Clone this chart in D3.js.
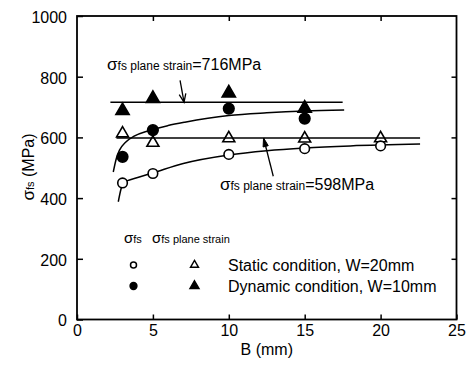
<!DOCTYPE html>
<html><head><meta charset="utf-8">
<script src="https://cdn.jsdelivr.net/npm/d3@7"></script>
<style>
body{margin:0;background:#fff}
svg{display:block}
text{font-family:"Liberation Sans",Arial,Helvetica,sans-serif;fill:#000}
</style>
</head><body>
<svg id="chart" width="472" height="369"></svg>
<script>
// ---- data ----
const xTicks = [0, 5, 10, 15, 20, 25];
const yTicks = [0, 200, 400, 600, 800, 1000];
const bStatic = [3, 5, 10, 15, 20];
const staticFs = [450, 481, 544, 563, 572];
const staticPlane = [613, 582, 597, 596, 597];
const bDynamic = [3, 5, 10, 15];
const dynamicFs = [536, 624, 695, 662];
const dynamicPlane = [688, 728, 746, 696];
// fitted curves, points
const staticCurveB = [2.72, 2.9, 3.05, 4, 5, 7, 10, 12.5, 15, 18, 22.6];
const staticCurveV = [388, 430, 450, 468, 483, 514, 542, 556, 565, 572, 578];
const dynamicCurveB = [2.39, 2.6, 2.8, 3.2, 3.8, 4.7, 6, 7.1, 10, 12.5, 15, 17.6];
const dynamicCurveV = [486, 532, 558, 584, 605, 622, 639, 650, 672, 681, 687, 690];
// plane strain levels
const planeValues = [716, 598];
const planeFrom = [2.2, 2.6];
const planeTo = [17.5, 22.6];
const legendRows = ["Static condition, W=20mm", "Dynamic condition, W=10mm"];

// ---- layout ----
const svg = d3.select("#chart");
const L = 77, R = 456.5, T = 16, B = 319.5;
const x = d3.scaleLinear().domain([0, 25]).range([L, R]);
const y = d3.scaleLinear().domain([0, 1000]).range([B, T]);

// frame
svg.append("rect").attr("x", L).attr("y", T).attr("width", R - L).attr("height", B - T)
  .attr("fill", "none").attr("stroke", "#000").attr("stroke-width", 1.8);

// axes with inward ticks
const fmt = d3.format("d");
const gB = svg.append("g").attr("transform", `translate(0,${B})`)
  .call(d3.axisBottom(x).tickValues(xTicks).tickSize(-5).tickPadding(5).tickFormat(fmt));
const gT = svg.append("g").attr("transform", `translate(0,${T})`)
  .call(d3.axisTop(x).tickValues(xTicks.slice(1, -1)).tickSize(-5).tickFormat(""));
const gL = svg.append("g").attr("transform", `translate(${L},0)`)
  .call(d3.axisLeft(y).tickValues(yTicks).tickSize(-6).tickPadding(10).tickFormat(fmt));
const gR = svg.append("g").attr("transform", `translate(${R},0)`)
  .call(d3.axisRight(y).tickValues(yTicks.slice(1, -1)).tickSize(-5).tickFormat(""));
[gB, gT, gL, gR].forEach(g => {
  g.select(".domain").remove();
  g.selectAll(".tick line").attr("stroke", "#000").attr("stroke-width", 1.5);
  g.selectAll("text").attr("font-size", 16).attr("fill", "#000")
    .attr("font-family", '"Liberation Sans",Arial,sans-serif');
});
gL.selectAll("text").attr("dy", "0.4em");

// axis titles
svg.append("text").attr("x", (L + R) / 2).attr("y", 355).attr("text-anchor", "middle")
  .attr("font-size", 16).text("B (mm)");
const yl = svg.append("text").attr("transform", "translate(34,167) rotate(-90)")
  .attr("text-anchor", "middle");
yl.append("tspan").attr("font-size", 17).text("σ");
yl.append("tspan").attr("font-size", 11).text("fs");
yl.append("tspan").attr("font-size", 16).text(" (MPa)");

// plane strain lines
planeValues.forEach((v, i) => {
  svg.append("line").attr("x1", x(planeFrom[i])).attr("x2", x(planeTo[i]))
    .attr("y1", y(v)).attr("y2", y(v)).attr("stroke", "#000").attr("stroke-width", 1.5);
});

// fitted curves
const line = d3.line().x(d => x(d[0])).y(d => y(d[1])).curve(d3.curveMonotoneX);
svg.append("path").datum(d3.zip(staticCurveB, staticCurveV)).attr("d", line)
  .attr("fill", "none").attr("stroke", "#000").attr("stroke-width", 1.5);
svg.append("path").datum(d3.zip(dynamicCurveB, dynamicCurveV)).attr("d", line)
  .attr("fill", "none").attr("stroke", "#000").attr("stroke-width", 1.5);

// markers
const tri = d3.symbol().type(d3.symbolTriangle);
function circles(bs, vs, filled, r) {
  svg.append("g").selectAll("circle").data(d3.zip(bs, vs)).join("circle")
    .attr("cx", d => x(d[0])).attr("cy", d => y(d[1])).attr("r", r)
    .attr("fill", filled ? "#000" : "#fff").attr("stroke", "#000").attr("stroke-width", 1.6);
}
function triangles(bs, vs, filled, size) {
  svg.append("g").selectAll("path").data(d3.zip(bs, vs)).join("path")
    .attr("d", tri.size(size)()).attr("transform", d => `translate(${x(d[0])},${y(d[1])})`)
    .attr("fill", filled ? "#000" : "none").attr("stroke", "#000").attr("stroke-width", 1.6)
    .attr("stroke-linejoin", "miter");
}
triangles(bStatic, staticPlane, false, 62);
circles(bStatic, staticFs, false, 4.8);
triangles(bDynamic, dynamicPlane, true, 76);
circles(bDynamic, dynamicFs, true, 5.3);

// annotations
function label(xp, yp, val) {
  const t = svg.append("text").attr("x", xp).attr("y", yp);
  t.append("tspan").attr("font-size", 17).text("σ");
  t.append("tspan").attr("font-size", 12).text("fs plane strain");
  t.append("tspan").attr("font-size", 16).text(`=${val}MPa`);
}
label(x(1.98), y(821), planeValues[0]);
label(x(9.42), y(426), planeValues[1]);

// arrow to 716 line (open V head)
{
  const x0 = x(6.79), y0 = y(788), x1 = x(7.05), y1 = y(planeValues[0]);
  svg.append("line").attr("x1", x0).attr("y1", y0).attr("x2", x1).attr("y2", y1)
    .attr("stroke", "#000").attr("stroke-width", 1.3);
  const a = Math.atan2(y1 - y0, x1 - x0), h = 9, w = 0.38;
  svg.append("path").attr("d",
    `M${x1 - h * Math.cos(a - w)},${y1 - h * Math.sin(a - w)}L${x1},${y1}L${x1 - h * Math.cos(a + w)},${y1 - h * Math.sin(a + w)}`)
    .attr("fill", "none").attr("stroke", "#000").attr("stroke-width", 1.3);
}
// arrow to 598 line (solid head)
{
  const x0 = x(12.93), y0 = y(472), x1 = x(12.29), y1 = y(planeValues[1]);
  svg.append("line").attr("x1", x0).attr("y1", y0).attr("x2", x1).attr("y2", y1)
    .attr("stroke", "#000").attr("stroke-width", 1.3);
  const a = Math.atan2(y1 - y0, x1 - x0), h = 9, w = 0.3;
  svg.append("path").attr("d",
    `M${x1 - h * Math.cos(a - w)},${y1 - h * Math.sin(a - w)}L${x1},${y1}L${x1 - h * Math.cos(a + w)},${y1 - h * Math.sin(a + w)}Z`)
    .attr("fill", "#000").attr("stroke", "#000").attr("stroke-width", 1);
}

// legend
{
  const hy = 243;
  const h1 = svg.append("text").attr("x", 124).attr("y", hy);
  h1.append("tspan").attr("font-size", 15).text("σ");
  h1.append("tspan").attr("font-size", 11).text("fs");
  const h2 = svg.append("text").attr("x", 152).attr("y", hy);
  h2.append("tspan").attr("font-size", 15).text("σ");
  h2.append("tspan").attr("font-size", 11).text("fs plane strain");
  const rowsY = [265, 286];
  legendRows.forEach((txt, i) => {
    const cy = rowsY[i];
    svg.append("circle").attr("cx", 133.5).attr("cy", cy).attr("r", i ? 3.4 : 3)
      .attr("fill", i ? "#000" : "#fff").attr("stroke", "#000").attr("stroke-width", 1.5);
    svg.append("path").attr("d", tri.size(i ? 36 : 28)())
      .attr("transform", `translate(194.5,${cy})`)
      .attr("fill", i ? "#000" : "none").attr("stroke", "#000").attr("stroke-width", 1.4);
    svg.append("text").attr("x", 228).attr("y", cy + 6).attr("font-size", 16).text(txt);
  });
}
</script>
</body></html>
